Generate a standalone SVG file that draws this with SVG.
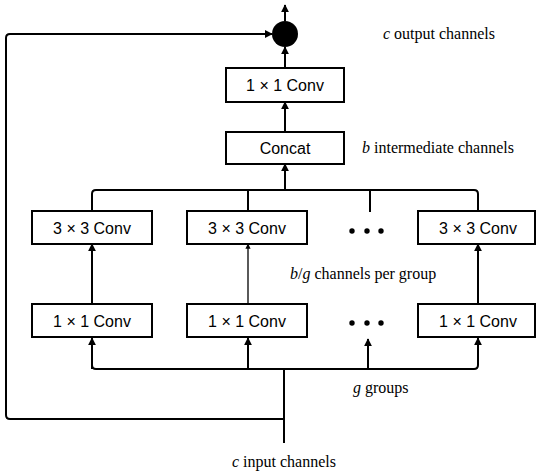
<svg xmlns="http://www.w3.org/2000/svg" width="537" height="475" viewBox="0 0 537 475">
<style>
.box{fill:#fff;stroke:#000;stroke-width:2}
.bt{font-family:"Liberation Sans",Arial,sans-serif;font-size:16px;text-anchor:middle;fill:#000}
.lbl{font-family:"Liberation Serif","Times New Roman",serif;font-size:16px;fill:#000}
.ln{fill:none;stroke:#000;stroke-width:2}
.thin{fill:none;stroke:#000;stroke-width:1.3}
</style>
<defs>
<marker id="ah" viewBox="0 0 10 10" refX="9" refY="5" markerWidth="4" markerHeight="4" orient="auto" markerUnits="strokeWidth">
<path d="M0,0 L10,5 L0,10 z" fill="#000"/>
</marker>
</defs>
<rect width="537" height="475" fill="#fff"/>
<g id="connectors">
<line class="ln" x1="285" y1="21" x2="285" y2="5" marker-end="url(#ah)"/>
<line class="ln" x1="285" y1="68" x2="285" y2="47" marker-end="url(#ah)"/>
<line class="ln" x1="285" y1="132" x2="285" y2="102" marker-end="url(#ah)"/>
<line class="ln" x1="285" y1="190" x2="285" y2="164" marker-end="url(#ah)"/>
<path class="ln" d="M92,211 V194 Q92,190 96,190 H474 Q478,190 478,194 V211"/>
<line class="ln" x1="248" y1="190" x2="248" y2="211"/>
<line class="ln" x1="370" y1="190" x2="370" y2="212"/>
<line class="ln" x1="92" y1="304" x2="92" y2="244" marker-end="url(#ah)"/>
<line class="thin" x1="248" y1="304" x2="248" y2="244" marker-end="url(#ah)"/>
<line class="ln" x1="478" y1="304" x2="478" y2="244" marker-end="url(#ah)"/>
<path class="ln" d="M92,338 V365 Q92,369 96,369 H474 Q478,369 478,365 V338" marker-end="url(#ah)"/>
<line class="ln" x1="92" y1="369" x2="92" y2="338" marker-end="url(#ah)"/>
<line class="ln" x1="248" y1="369" x2="248" y2="338" marker-end="url(#ah)"/>
<line class="ln" x1="368" y1="369" x2="368" y2="339" marker-end="url(#ah)"/>
<line class="ln" x1="284" y1="443" x2="284" y2="369"/>
<path class="ln" d="M284,419 H10 Q6,419 6,415 V38 Q6,34 10,34 H272" marker-end="url(#ah)"/>
</g>
<g id="sum"><circle cx="285" cy="34" r="13" fill="#000"/></g>
<g id="conv1x1_top"><rect class="box" x="226" y="68" width="118" height="34"/><text class="bt" x="285" y="91">1 × 1 Conv</text></g>
<g id="concat"><rect class="box" x="226" y="132" width="118" height="32"/><text class="bt" x="285" y="154">Concat</text></g>
<g id="conv3x3_1"><rect class="box" x="32" y="211" width="120" height="33"/><text class="bt" x="92" y="233.5">3 × 3 Conv</text></g>
<g id="conv3x3_2"><rect class="box" x="187" y="211" width="120" height="33"/><text class="bt" x="247" y="233.5">3 × 3 Conv</text></g>
<g id="conv3x3_g"><rect class="box" x="418" y="211" width="117" height="33"/><text class="bt" x="478" y="233.5">3 × 3 Conv</text></g>
<g id="conv1x1_1"><rect class="box" x="32" y="304" width="120" height="33"/><text class="bt" x="92" y="326.5">1 × 1 Conv</text></g>
<g id="conv1x1_2"><rect class="box" x="187" y="304" width="120" height="33"/><text class="bt" x="247" y="326.5">1 × 1 Conv</text></g>
<g id="conv1x1_g"><rect class="box" x="418" y="304" width="117" height="33"/><text class="bt" x="478" y="326.5">1 × 1 Conv</text></g>
<g id="dots_top"><circle cx="352" cy="231" r="2.7"/><circle cx="367" cy="231" r="2.7"/><circle cx="381" cy="231" r="2.7"/></g>
<g id="dots_bottom"><circle cx="352" cy="323" r="2.7"/><circle cx="367" cy="323" r="2.7"/><circle cx="381" cy="323" r="2.7"/></g>
<g id="labels">
<text class="lbl" x="383" y="39"><tspan font-style="italic">c</tspan> output channels</text>
<text class="lbl" x="362" y="153"><tspan font-style="italic">b</tspan> intermediate channels</text>
<text class="lbl" x="290" y="279"><tspan font-style="italic">b</tspan>/<tspan font-style="italic">g</tspan> channels per group</text>
<text class="lbl" x="353" y="393"><tspan font-style="italic">g</tspan> groups</text>
<text class="lbl" x="284" y="467" text-anchor="middle"><tspan font-style="italic">c</tspan> input channels</text>
</g>
</svg>
